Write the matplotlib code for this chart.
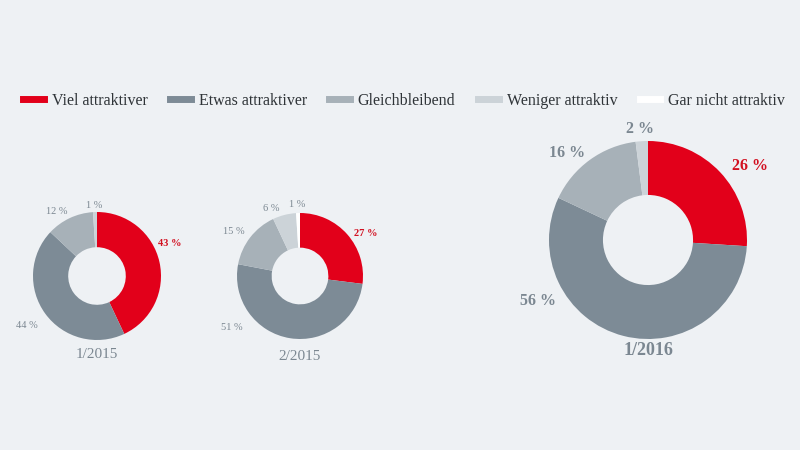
import numpy as np
import matplotlib.pyplot as plt
from matplotlib.lines import Line2D

categories = ['Viel attraktiver', 'Etwas attraktiver', 'Gleichbleibend',
              'Weniger attraktiv', 'Gar nicht attraktiv']
periods = ['1/2015', '2/2015', '1/2016']
values = {
    '1/2015': [43, 44, 12, 1, 0],
    '2/2015': [27, 51, 15, 6, 1],
    '1/2016': [26, 56, 16, 2, 0],
}

colors = ['#e2001a', '#7d8b96', '#a7b1b8', '#ccd3d8', '#ffffff']
bg = '#eef1f4'
grey_text = '#7b8791'
red_text = '#d21020'

# centre x, centre y (px from top), outer radius px, hole, label size, title size, title gap
layout = {
    '1/2015': (97, 276, 64, 0.45, 7.5, 11, 15),
    '2/2015': (300, 276, 63, 0.45, 7.5, 11, 17),
    '1/2016': (648, 240, 99, 0.455, 11.5, 13, 11),
}
# label placement (angle deg, distance in radii) per wedge
label_pos = {
    '1/2015': [(24, 1.25), (215, 1.34), (122, 1.18), (92, 1.11), (90, 1.1)],
    '2/2015': [(33, 1.25), (217, 1.35), (146, 1.26), (113, 1.17), (92, 1.13)],
    '1/2016': [(36, 1.27), (209, 1.27), (133, 1.2), (94, 1.12), (90, 1.1)],
}

W, H = 800, 450
fig = plt.figure(figsize=(8, 4.5), dpi=100)
fig.patch.set_facecolor(bg)
plt.rcParams['font.family'] = ['Liberation Serif', 'DejaVu Serif']

for p in periods:
    cx, cy, r, hole, fs, tfs, gap = layout[p]
    box = 2.0 * r + 120
    ax = fig.add_axes([(cx - box / 2) / W, 1 - (cy + box / 2) / H, box / W, box / H])
    ax.set_facecolor('none')
    lim = box / 2 / r
    wedges, _ = ax.pie(values[p], colors=colors, startangle=90, counterclock=False,
                       radius=1.0, wedgeprops=dict(width=1 - hole, edgecolor='none'))
    ax.set_xlim(-lim, lim)
    ax.set_ylim(-lim, lim)
    ax.set_aspect('equal')
    ax.axis('off')
    for i, v in enumerate(values[p]):
        if v == 0:
            continue
        a, d = label_pos[p][i]
        ang = np.deg2rad(a)
        col = red_text if i == 0 else grey_text
        ax.text(d * np.cos(ang), d * np.sin(ang), f'{v} %', ha='center', va='center',
                fontsize=fs, color=col,
                fontweight='bold' if p == '1/2016' or i == 0 else 'normal')
    ax.text(0, -(r + gap) / r, p, ha='center', va='center', fontsize=tfs,
            color=grey_text, fontweight='bold' if p == '1/2016' else 'normal')

handles = [Line2D([0], [0], color=c, lw=5) for c in colors]
leg = fig.legend(handles, categories, loc='center', bbox_to_anchor=(0.505, 1 - 101 / H),
                 ncol=5, frameon=False, fontsize=11.5, handlelength=1.3,
                 handletextpad=0.5, columnspacing=1.4, labelcolor='#2f3438')

fig.savefig('out.png', dpi=100, facecolor=bg)
